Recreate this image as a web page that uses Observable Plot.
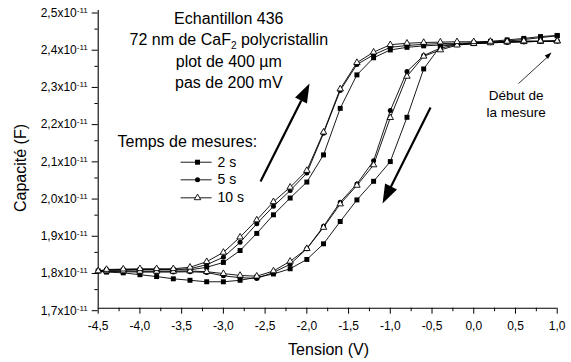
<!DOCTYPE html>
<html><head><meta charset="utf-8">
<script src="https://cdn.jsdelivr.net/npm/d3@7"></script>
<script src="https://cdn.jsdelivr.net/npm/@observablehq/plot@0.6"></script>
<style>body{margin:0;background:#fff} svg{display:block} #chart svg, #chart svg text{font-family:'Liberation Sans', Arial, sans-serif;}</style>
</head><body><div id="chart"></div>
<script>
// Voltage steps (V)
const volts = [-4.5,-4.4,-4.2,-4.0,-3.8,-3.6,-3.4,-3.2,-3.0,-2.8,-2.6,-2.4,-2.2,-2.0,-1.8,-1.6,-1.4,-1.2,-1.0,-0.8,-0.6,-0.4,-0.2,0.0,0.2,0.4,0.6,0.8,1.0];
// Capacitance (x1e-11 F), aligned with volts. "down" = sweep from 1 V to -4.5 V, "up" = sweep back.
const down2s  = [1.800,1.797,1.795,1.790,1.785,1.779,1.775,1.771,1.771,1.775,1.783,1.792,1.806,1.831,1.873,1.933,1.991,2.041,2.094,2.213,2.343,2.404,2.409,2.413,2.417,2.421,2.425,2.430,2.433];
const up2s    = [1.800,1.802,1.802,1.803,1.803,1.803,1.803,1.810,1.823,1.855,1.901,1.951,1.996,2.039,2.112,2.237,2.327,2.373,2.394,2.401,2.405,2.407,2.409,2.411,2.414,2.418,2.422,2.427,2.432];
const down5s  = [1.800,1.799,1.798,1.797,1.797,1.797,1.798,1.796,1.787,1.782,1.780,1.796,1.818,1.860,1.920,1.985,2.034,2.096,2.231,2.336,2.379,2.399,2.408,2.411,2.413,2.415,2.416,2.417,2.418];
const up5s    = [1.800,1.803,1.804,1.804,1.804,1.804,1.806,1.817,1.837,1.877,1.927,1.974,2.016,2.063,2.170,2.285,2.355,2.381,2.401,2.406,2.409,2.411,2.412,2.413,2.414,2.415,2.416,2.417,2.418];
const down10s = [1.800,1.800,1.800,1.799,1.799,1.799,1.800,1.798,1.793,1.788,1.786,1.800,1.826,1.860,1.917,1.980,2.030,2.085,2.212,2.323,2.377,2.394,2.407,2.411,2.413,2.415,2.416,2.417,2.418];
const up10s   = [1.800,1.804,1.805,1.806,1.806,1.806,1.810,1.825,1.850,1.891,1.937,1.986,2.025,2.070,2.173,2.289,2.360,2.388,2.408,2.412,2.414,2.415,2.416,2.416,2.417,2.417,2.418,2.418,2.418];
const seriesKeys = ["2 s", "5 s", "10 s"];

// Ticks
const xTicks = [-4.5,-4.0,-3.5,-3.0,-2.5,-2.0,-1.5,-1.0,-0.5,0.0,0.5,1.0];
const xTickLabels = ["-4,5","-4,0","-3,5","-3,0","-2,5","-2,0","-1,5","-1,0","-0,5","0,0","0,5","1,0"];
const xMinor = [-4.25,-3.75,-3.25,-2.75,-2.25,-1.75,-1.25,-0.75,-0.25,0.25,0.75];
const yTicks = [1.7,1.8,1.9,2.0,2.1,2.2,2.3,2.4,2.5];
const yTickLabels = ["1,7x10","1,8x10","1,9x10","2,0x10","2,1x10","2,2x10","2,3x10","2,4x10","2,5x10"];
const yExponent = "-11";
const yMinor = [1.75,1.85,1.95,2.05,2.15,2.25,2.35,2.45];

// Texts
const titleLines = ["Echantillon 436", "72 nm de CaF\u2082 polycristallin", "plot de 400 µm", "pas de 200 mV"];
const legendTitle = "Temps de mesures:";
const startNote = ["Début de", "la mesure"];
const xLabel = "Tension (V)";
const yLabel = "Capacité (F)";

// ---------- build rows ----------
const downs = [down2s, down5s, down10s], ups = [up2s, up5s, up10s];
function loopRows(k) {
  const rows = [];
  for (let i = volts.length - 1; i >= 0; i--) rows.push({V: volts[i], C: downs[k][i], key: seriesKeys[k]});
  for (let i = 1; i < volts.length; i++) rows.push({V: volts[i], C: ups[k][i], key: seriesKeys[k]});
  return rows;
}
const rows = seriesKeys.map((_, k) => loopRows(k));

const xLab = new Map(xTicks.map((v, i) => [v, xTickLabels[i]]));
const yLab = new Map(yTicks.map((v, i) => [v, yTickLabels[i]]));

// Annotation placement (data coordinates)
const titleX = -2.935, titleY = [2.4624, 2.4073, 2.3495, 2.2917];
const legendTitlePos = {V: -4.269, C: 2.1326};
const legendY = [2.0923, 2.045, 1.9966];
const legendLine = [-3.512, -3.141], legendMark = -3.31, legendText = -3.07;

const head = {draw(ctx, size) { const r = Math.sqrt(size / Math.PI), w = 0.35 * r; ctx.moveTo(0, 0); ctx.lineTo(w, r); ctx.lineTo(-w, r); ctx.closePath(); }};
const arrows = [
  {x1: -2.555, y1: 2.0404, x2: -2.066, y2: 2.2581, tx: -1.968, ty: 2.3038, rot: 26.6, r: 19, sw: 2.2},
  {x1: -0.518, y1: 2.2393, x2: -0.997, y2: 2.0243, tx: -1.093, ty: 1.9813, rot: 206.6, r: 19, sw: 2.2},
  {x1: 0.537, y1: 2.3038, x2: 0.884, y2: 2.375, tx: 0.932, ty: 2.3871, rot: 46.8, r: 7, sw: 0.8}
];

const symbols = ["square", "circle", "triangle"];
const radii = [2.8, 2.5, 2.4];
const fills = ["black", "black", "white"];

const legendRows = seriesKeys.map((k, i) => ({k, i, y: legendY[i]}));

const chart = Plot.plot({
  width: 571, height: 362,
  marginLeft: 97.7, marginRight: 14.3, marginTop: 10, marginBottom: 54.3,
  style: "font-family: 'Liberation Sans', Arial, sans-serif; background: white; color: black; overflow: visible;",
  x: {domain: [-4.5, 1.0]},
  y: {domain: [1.7, 2.5]},
  marks: [
    Plot.axisX(xMinor, {tickSize: 3.5, fill: "none", tickFormat: () => null, label: null}),
    Plot.axisY(yMinor, {tickSize: 3.3, fill: "none", tickFormat: () => null, label: null}),
    Plot.axisX(xTicks, {tickSize: 6, tickPadding: 7, fontSize: 12, tickFormat: d => xLab.get(d), label: null}),
    Plot.axisY(yTicks, {tickSize: 6, tickPadding: 4.5, fontSize: 12, dy: 2.5, tickFormat: d => yLab.get(d), label: null}),
    Plot.ruleX([-4.5], {stroke: "black", strokeWidth: 1.1}),
    Plot.ruleY([1.7], {stroke: "black", strokeWidth: 1.1}),
    // data
    ...rows.map(r => Plot.line(r, {x: "V", y: "C", stroke: "black", strokeWidth: 0.9})),
    ...rows.map((r, k) => Plot.dot(r, {x: "V", y: "C", symbol: symbols[k], r: radii[k], fill: fills[k], stroke: k === 2 ? "black" : "none", strokeWidth: 0.9})),
    // legend
    Plot.text([legendTitle], {x: legendTitlePos.V, y: legendTitlePos.C, text: d => d, textAnchor: "start", lineAnchor: "bottom", fontSize: 16}),
    Plot.link(legendRows, {x1: legendLine[0], x2: legendLine[1], y1: "y", y2: "y", stroke: "black", strokeWidth: 0.9}),
    ...legendRows.map(d => Plot.dot([d], {x: legendMark, y: "y", symbol: symbols[d.i], r: radii[d.i], fill: fills[d.i], stroke: d.i === 2 ? "black" : "none", strokeWidth: 0.9})),
    Plot.text(legendRows, {x: legendText, y: "y", text: "k", textAnchor: "start", lineAnchor: "middle", fontSize: 14}),
    // title block
    Plot.text(titleLines.map((t, i) => ({t, y: titleY[i]})), {x: titleX, y: "y", text: "t", textAnchor: "middle", lineAnchor: "bottom", fontSize: 16}),
    // start note
    Plot.text(startNote.map((t, i) => ({t, y: [2.2608, 2.2133][i]})), {x: 0.507, y: "y", text: "t", textAnchor: "middle", lineAnchor: "bottom", fontSize: 13.5}),
    // arrows
    Plot.link(arrows, {x1: "x1", y1: "y1", x2: "x2", y2: "y2", stroke: "black", strokeWidth: d => d.sw}),
    ...arrows.map(a => Plot.dot([a], {x: "tx", y: "ty", r: a.r, rotate: a.rot, symbol: head, fill: "black", stroke: "none"})),
    // axis titles
    Plot.text([xLabel], {x: -1.74, y: 1.5755, text: d => d, textAnchor: "middle", lineAnchor: "bottom", fontSize: 16}),
    Plot.text([yLabel], {x: -5.365, y: 2.0767, text: d => d, rotate: -90, textAnchor: "middle", lineAnchor: "bottom", fontSize: 16})
  ]
});
document.getElementById("chart").append(chart);

const ns = "http://www.w3.org/2000/svg";
chart.querySelectorAll("text").forEach(t => {
  const s = t.textContent;
  if (t.childElementCount === 0 && /^\d,\dx10$/.test(s)) {
    const sup = document.createElementNS(ns, "tspan");
    sup.setAttribute("font-size", "8");
    sup.setAttribute("dy", "-4");
    sup.textContent = yExponent;
    t.append(sup);
  }
  if (t.childElementCount === 0 && s.includes("\u2082")) {
    const [a, b] = s.split("\u2082");
    t.textContent = a;
    const sub = document.createElementNS(ns, "tspan");
    sub.setAttribute("font-size", "10"); sub.setAttribute("dy", "4"); sub.textContent = "2";
    const rest = document.createElementNS(ns, "tspan");
    rest.setAttribute("dy", "-4"); rest.textContent = b;
    t.append(sub, rest);
  }
});
</script></body></html>
